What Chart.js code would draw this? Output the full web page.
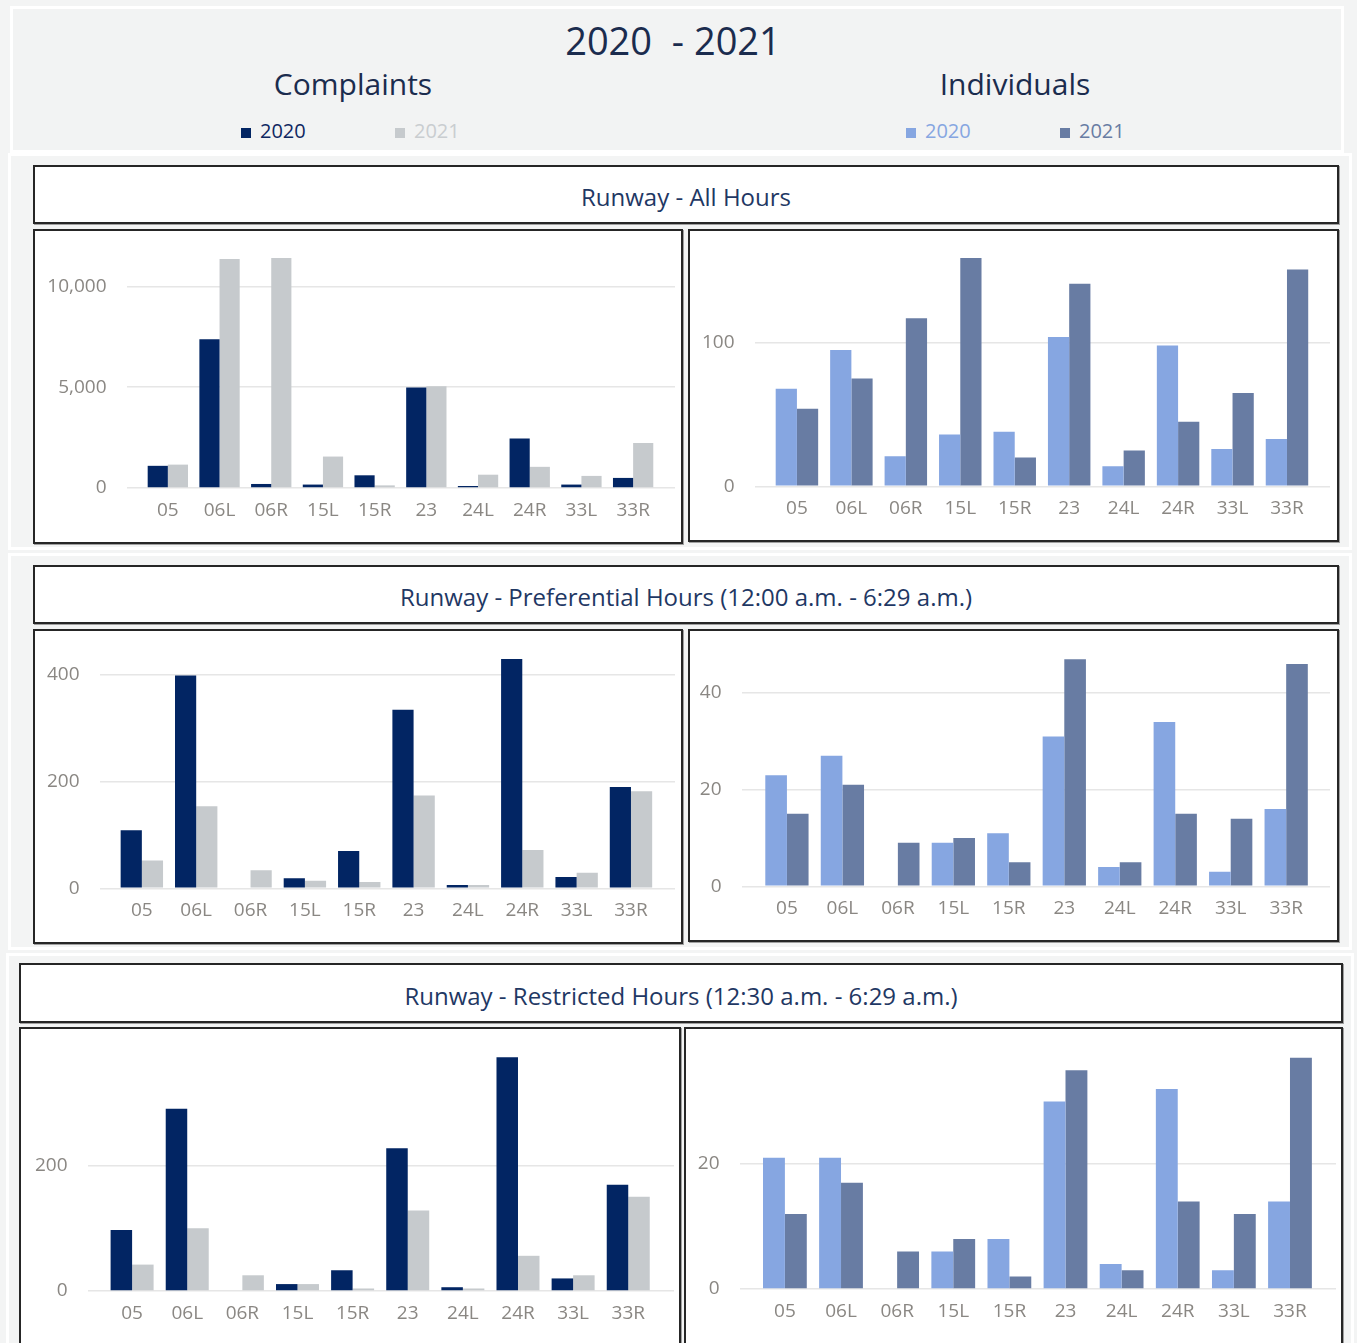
<!DOCTYPE html>
<html>
<head>
<meta charset="utf-8">
<script src="https://cdn.jsdelivr.net/npm/chart.js@4.4.1/dist/chart.umd.min.js"></script>
<style>
  html, body { margin:0; padding:0; width:1357px; height:1343px; overflow:hidden; background:#f3f4f4; font-family:'Open Sans', sans-serif; }
  .panel { position:absolute; box-sizing:border-box; border:3px solid #ffffff; background:#f3f4f4; }
  .box { position:absolute; box-sizing:border-box; border:2px solid #262626; background:#ffffff; box-shadow:1px 1px 0 #a0a0a0; overflow:hidden; }
  .tbox { display:flex; align-items:center; justify-content:center; padding-top:4px; }
  .txt { position:absolute; white-space:pre; line-height:1; }
  .ctr { text-align:center; }
  .sq { position:absolute; width:10px; height:10px; }
  .wrap { position:absolute; left:0; top:0; transform-origin:0 0; }
</style>
</head>
<body>
  <!-- header -->
  <div class="panel" style="left:10px;top:6px;width:1334px;height:147px;background:#f2f3f3;"></div>
  <div class="txt ctr" style="left:373px;top:21px;width:600px;font-size:38px;color:#1b2c4e;">2020  - 2021</div>
  <div class="txt ctr" style="left:203px;top:69px;width:300px;font-size:30px;color:#1b2c4e;">Complaints</div>
  <div class="txt ctr" style="left:865px;top:69px;width:300px;font-size:30px;color:#1b2c4e;">Individuals</div>

  <!-- section panels -->
  <div class="panel" style="left:8px;top:153px;width:1344px;height:397px;"></div>
  <div class="panel" style="left:8px;top:553px;width:1344px;height:397px;"></div>
  <div class="panel" style="left:6px;top:953px;width:1348px;height:400px;"></div>

  <div class="box tbox" style="left:33px;top:165px;width:1306px;height:59px;"><span style="font-size:24px;color:#1f3864;">Runway - All Hours</span></div>
  <div class="box tbox" style="left:33px;top:565px;width:1306px;height:59px;"><span style="font-size:24px;color:#1f3864;">Runway - Preferential Hours (12:00 a.m. - 6:29 a.m.)</span></div>
  <div class="box tbox" style="left:19px;top:963px;width:1324px;height:60px;"><span style="font-size:24px;color:#1f3864;">Runway - Restricted Hours (12:30 a.m. - 6:29 a.m.)</span></div>

<script>
// ---------------- DATA ----------------
const categories = ['05', '06L', '06R', '15L', '15R', '23', '24L', '24R', '33L', '33R'];
const seriesNames = ['2020', '2021'];

const complaintsAll2020   = [1100, 7380, 200, 170, 630, 4980, 100, 2460, 170, 500];
const complaintsAll2021   = [1160, 11360, 11410, 1560, 130, 5050, 660, 1050, 600, 2230];
const individualsAll2020  = [68, 95, 21, 36, 38, 104, 14, 98, 26, 33];
const individualsAll2021  = [54, 75, 117, 159, 20, 141, 25, 45, 65, 151];

const complaintsPref2020  = [109, 399, 0, 19, 70, 335, 6, 430, 21, 190];
const complaintsPref2021  = [52, 154, 34, 14, 12, 174, 6, 72, 29, 182];
const individualsPref2020 = [23, 27, 0, 9, 11, 31, 4, 34, 3, 16];
const individualsPref2021 = [15, 21, 9, 10, 5, 47, 5, 15, 14, 46];

const complaintsRestr2020  = [97, 290, 0, 11, 33, 227, 6, 372, 20, 169];
const complaintsRestr2021  = [42, 100, 25, 11, 4, 128, 4, 56, 25, 150];
const individualsRestr2020 = [21, 21, 0, 6, 8, 30, 4, 32, 3, 14];
const individualsRestr2021 = [12, 17, 6, 8, 2, 35, 3, 14, 12, 37];

// tick steps / axis maxima
const yStepAll = [5000, 100];
const yStepPref = [200, 20];
const yStepRestr = [200, 20];
const yMaxAll = [12000, 165];
const yMaxPref = [450, 49];
const yMaxRestr = [385, 38];

// ---------------- STYLE ----------------
const K = 1.0;
const complaintColors = ['#022563', '#c6cacd'];
const individualColors = ['#86a6e1', '#687ca3'];
const legendTextColors = { c: ['#0f2761', '#c9cdd0'], i: ['#86a6e1', '#687ca3'] };
const tickColor = '#8a8783';
const gridColor = '#e6e6e6';
const tickFont = { family: "'Open Sans', sans-serif", size: 19 };

// layout: box [x, y, w, h]; area [left, right, top, bottom] (page px); category padding [left, right]
const layout = [
  { box:[33,229,650,315],  area:[127,675,246.1,488],   pad:[0.29,0.31] },
  { box:[688,229,651,313], area:[755,1330,249.4,486.3], pad:[0.27,0.29] },
  { box:[33,629,650,315],  area:[100,675,648.3,888.3], pad:[0.27,0.31] },
  { box:[688,629,651,313], area:[742,1330,649.5,886.3], pad:[0.31,0.29] },
  { box:[19,1027,662,330], area:[88,674,1049,1291],     pad:[0.30,0.33] },
  { box:[684,1027,659,330],area:[740,1336,1051.5,1289], pad:[0.30,0.32] }
];

const chartDefs = [
  { series:[complaintsAll2020, complaintsAll2021],   colors:complaintColors,  step:yStepAll[0],   max:yMaxAll[0] },
  { series:[individualsAll2020, individualsAll2021], colors:individualColors, step:yStepAll[1],   max:yMaxAll[1] },
  { series:[complaintsPref2020, complaintsPref2021], colors:complaintColors,  step:yStepPref[0],  max:yMaxPref[0] },
  { series:[individualsPref2020, individualsPref2021], colors:individualColors, step:yStepPref[1], max:yMaxPref[1] },
  { series:[complaintsRestr2020, complaintsRestr2021], colors:complaintColors, step:yStepRestr[0], max:yMaxRestr[0] },
  { series:[individualsRestr2020, individualsRestr2021], colors:individualColors, step:yStepRestr[1], max:yMaxRestr[1] }
];

// ---------------- LEGENDS (HTML) ----------------
function buildLegend(items) {
  items.forEach(it => {
    const sq = document.createElement('div');
    sq.className = 'sq';
    sq.style.left = it.sx + 'px'; sq.style.top = '128px'; sq.style.background = it.color;
    document.body.appendChild(sq);
    const t = document.createElement('div');
    t.className = 'txt';
    t.style.left = it.tx + 'px'; t.style.top = '121px'; t.style.fontSize = '20px'; t.style.color = it.tcolor;
    t.textContent = it.label;
    document.body.appendChild(t);
  });
}
buildLegend([
  { sx:241, tx:260, color:complaintColors[0], tcolor:legendTextColors.c[0], label:seriesNames[0] },
  { sx:395, tx:414, color:complaintColors[1], tcolor:legendTextColors.c[1], label:seriesNames[1] },
  { sx:906, tx:925, color:individualColors[0], tcolor:legendTextColors.i[0], label:seriesNames[0] },
  { sx:1060, tx:1079, color:individualColors[1], tcolor:legendTextColors.i[1], label:seriesNames[1] }
]);

// ---------------- CHARTS ----------------
Chart.defaults.font.family = "'Open Sans', sans-serif";

chartDefs.forEach((def, i) => {
  const L = layout[i];
  const [bx, by, bw, bh] = L.box;
  const inL = bx + 2, inT = by + 2, inR = bx + bw - 2, inB = by + bh - 2;
  const [aL, aR, aT, aB] = L.area;

  const box = document.createElement('div');
  box.className = 'box';
  box.style.left = bx + 'px'; box.style.top = by + 'px';
  box.style.width = bw + 'px'; box.style.height = bh + 'px';
  document.body.appendChild(box);

  const wrap = document.createElement('div');
  wrap.className = 'wrap';
  wrap.style.width = ((inR - inL) / K) + 'px';
  wrap.style.height = (inB - inT) + 'px';
  wrap.style.transform = 'scaleX(' + K + ')';
  box.appendChild(wrap);
  const cv = document.createElement('canvas');
  wrap.appendChild(cv);

  const padL = L.pad[0], padR = L.pad[1];
  new Chart(cv, {
    type: 'bar',
    data: {
      labels: categories,
      datasets: def.series.map((s, j) => ({
        label: seriesNames[j],
        data: s,
        backgroundColor: def.colors[j],
        borderWidth: 0,
        categoryPercentage: 0.78,
        barPercentage: 1.0
      }))
    },
    options: {
      animation: false,
      responsive: true,
      maintainAspectRatio: false,
      layout: { padding: { left: 0, right: (inR - aR) / K, top: aT - inT, bottom: 0 } },
      plugins: { legend: { display: false }, tooltip: { enabled: false }, title: { display: false } },
      scales: {
        x: {
          grid: { display: false },
          border: { display: false },
          ticks: { color: tickColor, font: tickFont, padding: 3, maxRotation: 0, autoSkip: false },
          afterBuildTicks: s => { s._startValue -= padL; s._valueRange += padL + padR; },
          afterFit: s => { s.height = inB - aB; s.paddingLeft = 0; s.paddingRight = 0; }
        },
        y: {
          min: 0,
          max: def.max,
          grid: { color: gridColor, lineWidth: 1.5, drawTicks: false },
          border: { display: false },
          ticks: { color: tickColor, font: tickFont, padding: 20.5 / K, autoSkip: false },
          afterBuildTicks: s => {
            const t = [];
            for (let v = 0; v <= def.max; v += def.step) t.push({ value: v });
            s.ticks = t;
          },
          afterFit: s => { s.width = (aL - inL) / K; s.paddingTop = 0; s.paddingBottom = 0; }
        }
      }
    }
  });
});
</script>
</body>
</html>
